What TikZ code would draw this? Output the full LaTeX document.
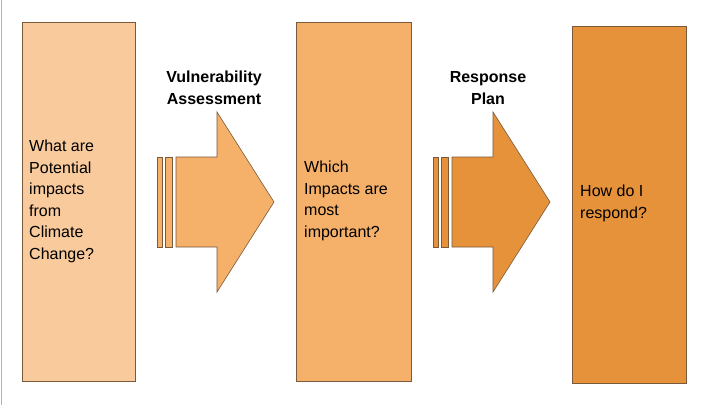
\documentclass[tikz,border=0pt]{standalone}
\usepackage{fontspec}
\setmainfont{Liberation Sans}
\definecolor{c1}{HTML}{F8CA9C}
\definecolor{c2}{HTML}{F5B06A}
\definecolor{c3}{HTML}{E5923A}
\definecolor{edge}{HTML}{7A5A3A}
\begin{document}
\begin{tikzpicture}[x=1pt,y=-1pt,
  panel/.style={draw=edge,line width=0.6pt},
  lbl/.style={font=\fontsize{16}{21.5}\selectfont,align=left,anchor=north west,inner sep=0pt},
  hdr/.style={font=\fontsize{16}{21.5}\selectfont\bfseries,align=center,inner sep=0pt}]
\useasboundingbox (0,0) rectangle (720,405);
\fill[white] (0,0) rectangle (720,405);
\draw[gray!60] (1,0) -- (1,405);
\filldraw[panel,fill=c1] (22,22) rectangle (135,381);
\filldraw[panel,fill=c2] (296,22) rectangle (411,381);
\filldraw[panel,fill=c3] (572,26) rectangle (686,383);
% arrow 1
\filldraw[panel,fill=c2] (157,157) rectangle (162,247);
\filldraw[panel,fill=c2] (165,157) rectangle (172,247);
\filldraw[panel,fill=c2] (176,157) -- (217,157) -- (217,112) -- (274,202) -- (217,292) -- (217,247) -- (176,247) -- cycle;
% arrow 2
\filldraw[panel,fill=c3] (433,157) rectangle (438,247);
\filldraw[panel,fill=c3] (441,157) rectangle (448,247);
\filldraw[panel,fill=c3] (452,157) -- (493,157) -- (493,112) -- (550,202) -- (493,292) -- (493,247) -- (452,247) -- cycle;
\node[lbl] (t1) at (29,140) {What are\\Potential\\impacts\\from\\Climate\\Change?};
\node[lbl] (t2) at (304,161) {Which\\Impacts are\\most\\important?};
\node[lbl] (t3) at (580,185) {How do I\\respond?};
\node[hdr] (h1) at (214,88) {Vulnerability\\Assessment};
\node[hdr] (h2) at (488,88) {Response\\Plan};
\end{tikzpicture}
\end{document}
